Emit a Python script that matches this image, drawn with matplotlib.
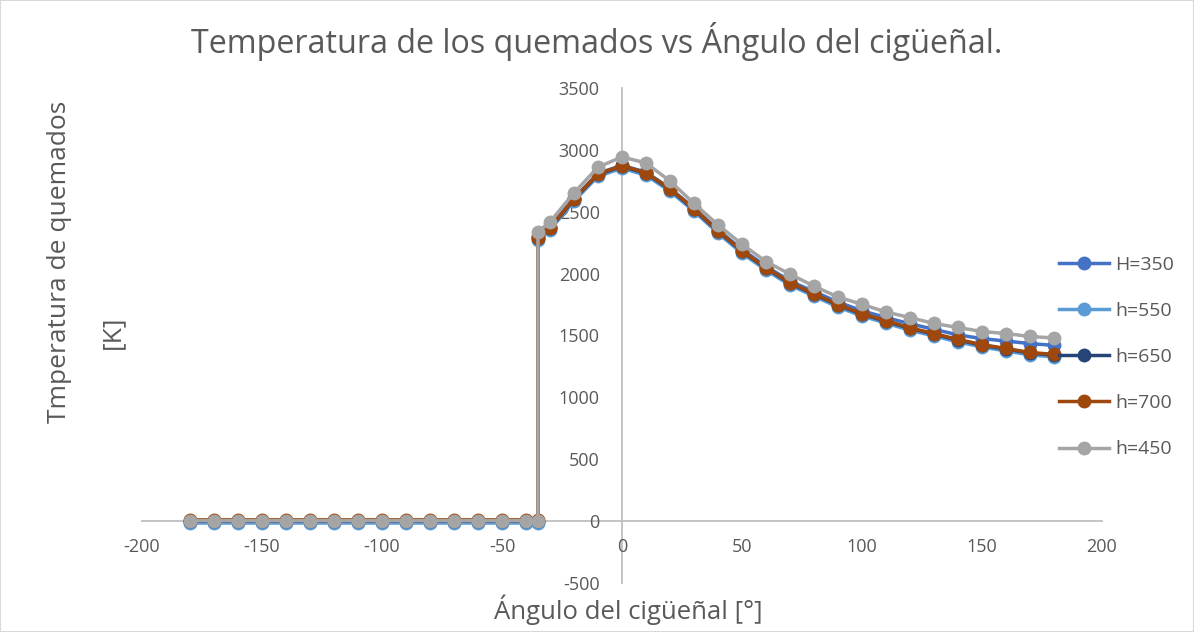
import matplotlib
matplotlib.use("Agg")
import matplotlib.pyplot as plt
from matplotlib.patches import Rectangle

plt.rcParams["font.family"] = ["Open Sans", "DejaVu Sans"]
plt.rcParams["axes.unicode_minus"] = False

TEXT = "#595959"
AXIS = "#BFBFBF"

# crank angle: flat compression part, jump at ignition, then combustion/expansion
angle = [-180, -170, -160, -150, -140, -130, -120, -110, -100, -90, -80, -70, -60, -50, -40, -35,
         -35, -30, -20, -10, 0, 10, 20, 30, 40, 50, 60, 70, 80, 90, 100, 110, 120, 130, 140, 150,
         160, 170, 180]

t_h350 = [-5] * 16 + [2300, 2380, 2610, 2810, 2875, 2820, 2690, 2530, 2355, 2195, 2060, 1940,
                      1855, 1770, 1700, 1645, 1595, 1550, 1505, 1475, 1455, 1435, 1420]
t_h550 = [-15] * 16 + [2272, 2352, 2585, 2786, 2851, 2795, 2665, 2504, 2327, 2165, 2028, 1907,
                       1818, 1730, 1657, 1600, 1542, 1496, 1448, 1407, 1375, 1343, 1327]
t_h650 = [0] * 16 + [2285, 2366, 2600, 2801, 2866, 2810, 2680, 2519, 2342, 2180, 2043, 1922,
                     1833, 1745, 1672, 1615, 1557, 1511, 1463, 1422, 1390, 1358, 1342]
t_h700 = [10] * 16 + [2290, 2371, 2605, 2806, 2871, 2815, 2685, 2524, 2347, 2185, 2048, 1927,
                      1838, 1750, 1677, 1620, 1562, 1516, 1468, 1427, 1395, 1363, 1347]
t_h450 = [3] * 16 + [2340, 2417, 2652, 2860, 2943, 2894, 2748, 2567, 2394, 2238, 2097, 1996,
                     1899, 1811, 1752, 1690, 1645, 1597, 1565, 1532, 1516, 1492, 1480]

series = [
    ("H=350", t_h350, "#4472C4"),
    ("h=550", t_h550, "#5B9BD5"),
    ("h=650", t_h650, "#264478"),
    ("h=700", t_h700, "#9E480E"),
    ("h=450", t_h450, "#A5A5A5"),
]

fig = plt.figure(figsize=(11.94, 6.32), dpi=100)
ax = fig.add_axes([0.1189, 0.0775, 0.8040, 0.7833])

for name, temps, color in series:
    ax.plot(angle, temps, color=color, lw=2.5, marker="o", ms=10,
            markeredgewidth=0, label=name)

ax.set_xlim(-200, 200)
ax.set_ylim(-500, 3500)
ax.set_xticks(range(-200, 201, 50))
ax.set_yticks(range(-500, 3501, 500))

# axes cross at the origin, like an Excel scatter chart
ax.spines["left"].set_position(("data", 0))
ax.spines["bottom"].set_position(("data", 0))
ax.spines["top"].set_visible(False)
ax.spines["right"].set_visible(False)
for s in ("left", "bottom"):
    ax.spines[s].set_color(AXIS)
    ax.spines[s].set_linewidth(1.3)
    ax.spines[s].set_zorder(0)

ax.tick_params(axis="both", length=0, labelsize=13, labelcolor=TEXT)
ax.tick_params(axis="y", pad=16)
ax.tick_params(axis="x", pad=12)

fig.text(0.5, 0.935, "Temperatura de los quemados vs Ángulo del cigüeñal.",
         ha="center", va="center", fontsize=23.2, color=TEXT)
fig.text(0.526, 0.035, "Ángulo del cigüeñal [°]", ha="center", va="center",
         fontsize=18.5, color=TEXT)
fig.text(0.050, 1 - 262 / 632, "Tmperatura de quemados", ha="center", va="center",
         rotation=90, fontsize=19, color=TEXT)
fig.text(0.094, 1 - 332 / 632, "[K]", ha="center", va="center",
         rotation=90, fontsize=19, color=TEXT)

fig.legend(loc="center left", bbox_to_anchor=(0.872, 0.435), frameon=False,
           fontsize=14, labelcolor=TEXT, handlelength=2.6, handletextpad=0.3,
           labelspacing=1.45)

fig.patches.append(Rectangle((0, 0), 1, 1, transform=fig.transFigure, fill=False,
                             edgecolor="#D9D9D9", lw=1.5))

fig.savefig("out.png", dpi=100)
